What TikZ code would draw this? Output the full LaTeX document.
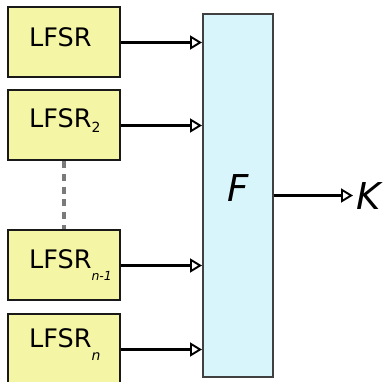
\documentclass[tikz,border=0pt]{standalone}
\usepackage{fontspec}
\setmainfont{DejaVu Sans}
\usetikzlibrary{arrows.meta}
\definecolor{lfsrfill}{HTML}{F5F5A6}
\definecolor{ffill}{HTML}{D9F5FC}
\definecolor{dashgray}{HTML}{7A7A7A}
\newcommand{\lfsrsub}[3]{\raisebox{-#1pt}{\fontsize{#2}{#2}\selectfont #3}}
\begin{document}
\begin{tikzpicture}[x=1pt,y=-1pt,
  lfsrbox/.style={draw=black!90, line width=2.6pt, fill=lfsrfill, minimum width=112pt, minimum height=70pt, inner sep=0pt},
  fbox/.style={draw=black!75, line width=1.5pt, fill=ffill, minimum width=70pt, minimum height=363pt, inner sep=0pt},
  lbl/.style={anchor=base west, inner sep=0pt, font=\fontsize{25.5}{28}\selectfont},
  big/.style={inner sep=0pt, font=\fontsize{37}{40}\selectfont\itshape},
  arr/.style={line width=2.6pt, -{Triangle[open, length=12pt, width=14pt, line width=1.9pt, fill=white]}},
  dotted link/.style={draw=dashgray, line width=4pt, dash pattern=on 7pt off 5.7pt}]
\useasboundingbox (0,0) rectangle (388,382);
\node[lfsrbox] (l1) at (64,42) {};
\node[lfsrbox] (l2) at (64,125) {};
\node[lfsrbox] (l3) at (64,265) {};
\node[lfsrbox] (l4) at (64,349) {};
\node[lbl] (t1) at (29,47) {LFSR};
\node[lbl] (t2) at (29,128) {LFSR\lfsrsub{5}{14}{2}};
\node[lbl] (t3) at (29,268) {LFSR\lfsrsub{12}{12.5}{\itshape n-1}};
\node[lbl] (t4) at (29,347) {LFSR\lfsrsub{13}{14}{\itshape n}};
\node[fbox] (F) at (238,195.5) {};
\node[big, anchor=base] (Ft) at (238,202) {F};
\node[big, anchor=base west] (K) at (356,209) {K};
\coordinate (kin) at (353,195.5);
\coordinate (i1) at (202,42.5);
\coordinate (i2) at (202,125.5);
\coordinate (i3) at (202,265.5);
\coordinate (i4) at (202,349.5);
\draw[arr] (l1.east |- i1) -- (i1);
\draw[arr] (l2.east |- i2) -- (i2);
\draw[arr] (l3.east |- i3) -- (i3);
\draw[arr] (l4.east |- i4) -- (i4);
\draw[arr] (F.east) -- (kin);
\draw[dotted link] (l2.south) -- (l3.north);
\end{tikzpicture}
\end{document}
